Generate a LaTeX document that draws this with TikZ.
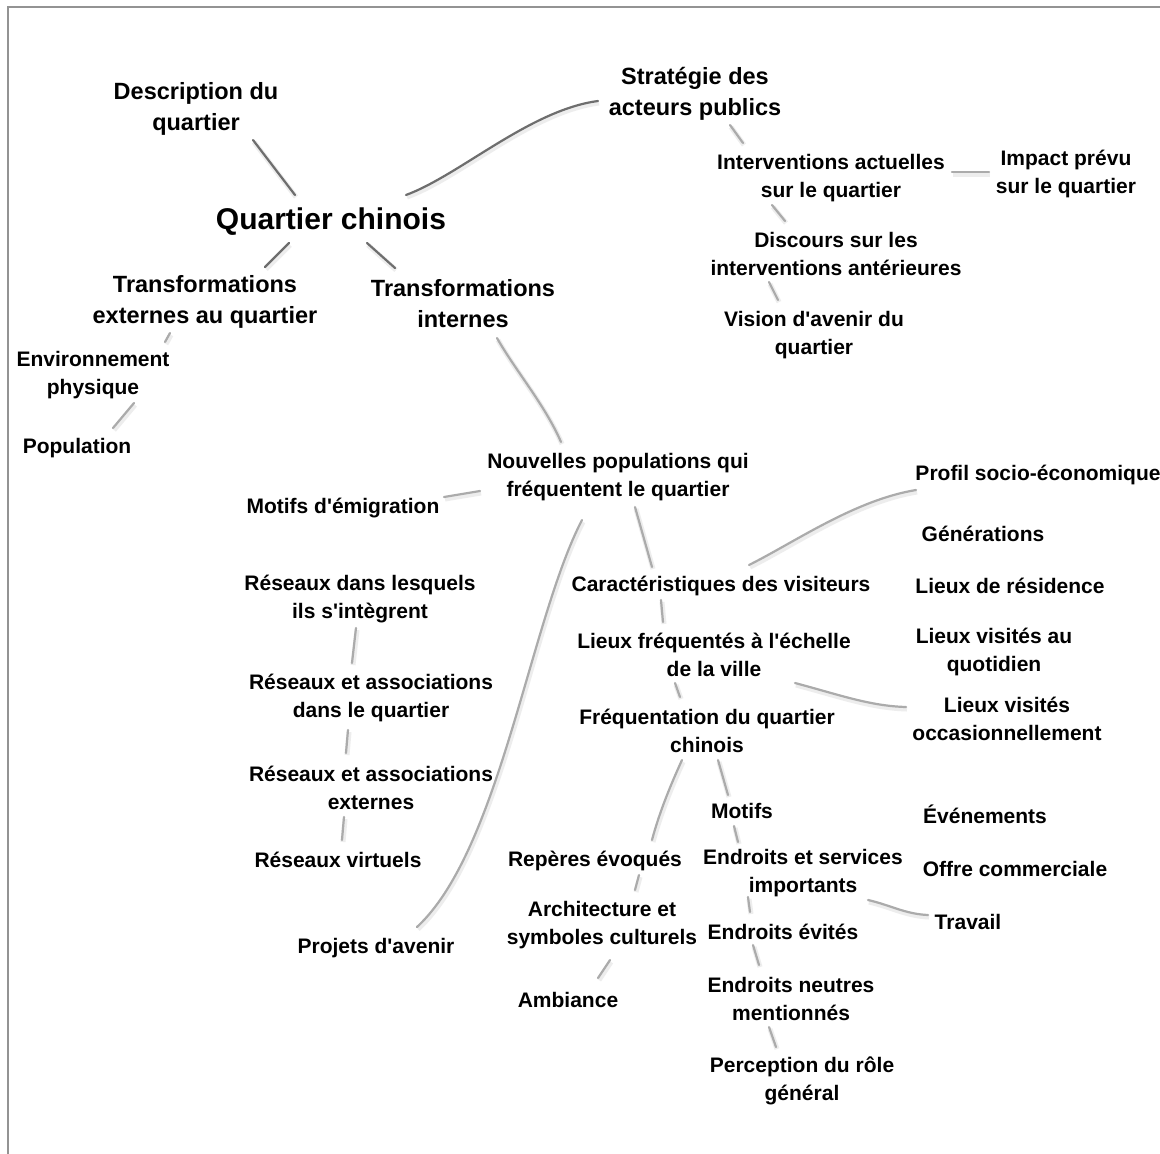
\documentclass[tikz,border=0pt]{standalone}
\usepackage{fontspec}
\newfontfamily\lsans{Liberation Sans}
\usetikzlibrary{calc}
\definecolor{frameg}{HTML}{939393}
\definecolor{linkdark}{HTML}{6E6E6E}
\definecolor{linklight}{HTML}{ABABAB}
\begin{document}
\begin{tikzpicture}[x=1pt,y=-1pt,
  rootn/.style={font=\lsans\bfseries\fontsize{30}{36}\selectfont, inner sep=0pt, align=center, text=black},
  lvone/.style={font=\lsans\bfseries\fontsize{23.5}{31}\selectfont, inner sep=0pt, align=center, text=black},
  leaf/.style={font=\lsans\bfseries\fontsize{21}{27.5}\selectfont, inner sep=0pt, align=center, text=black},
  lkshadow/.style={preaction={draw=black!7, line width=5pt, transform canvas={shift={(1pt,-2pt)}}}},
  lkdark/.style={draw=linkdark, line width=2.2pt, line cap=round, lkshadow},
  lklight/.style={draw=linklight, line width=2.2pt, line cap=round, lkshadow},
  framel/.style={draw=frameg, line width=2pt}]
\useasboundingbox (0,0) rectangle (1160,1154);
\fill[white] (0,0) rectangle (1160,1154);
\draw[framel] (8,1154) -- (8,7) -- (1160,7);

% nodes
\node[rootn] (root) at (331,222) {Quartier chinois};
\node[lvone] (desc) at (196,109) {Description du\\quartier};
\node[lvone] (strat) at (695,94) {Stratégie des\\acteurs publics};
\node[lvone] (texte) at (205,302) {Transformations\\externes au quartier};
\node[lvone] (tint) at (463,304) {Transformations\\internes};
\node[leaf] (envp) at (93,375) {Environnement\\physique};
\node[leaf] (popu) at (77,448) {Population};
\node[leaf] (interv) at (831,178) {Interventions actuelles\\sur le quartier};
\node[leaf] (impact) at (1066,174) {Impact prévu\\sur le quartier};
\node[leaf] (disc) at (836,254) {Discours sur les\\interventions antérieures};
\node[leaf] (vision) at (814,335) {Vision d'avenir du\\quartier};
\node[leaf] (nouv) at (618,477) {Nouvelles populations qui\\fréquentent le quartier};
\node[leaf] (motem) at (343,508) {Motifs d'émigration};
\node[leaf] (profil) at (1038,475) {Profil socio-économique};
\node[leaf] (gener) at (983,534) {Générations};
\node[leaf] (caract) at (721,586) {Caractéristiques des visiteurs};
\node[leaf] (lres) at (1010,586) {Lieux de résidence};
\node[leaf] (lfreq) at (714,655) {Lieux fréquentés à l'échelle\\de la ville};
\node[leaf] (quot) at (994,652) {Lieux visités au\\quotidien};
\node[leaf] (occas) at (1007,719) {Lieux visités\\occasionnellement};
\node[leaf] (freq) at (707,731) {Fréquentation du quartier\\chinois};
\node[leaf] (resint) at (360,599) {Réseaux dans lesquels\\ils s'intègrent};
\node[leaf] (resquart) at (371,698) {Réseaux et associations\\dans le quartier};
\node[leaf] (resext) at (371,788) {Réseaux et associations\\externes};
\node[leaf] (resvirt) at (338,860) {Réseaux virtuels};
\node[leaf] (projets) at (376,948) {Projets d'avenir};
\node[leaf] (motifs) at (742,811) {Motifs};
\node[leaf] (evenem) at (985,814) {Événements};
\node[leaf] (reperes) at (595,861) {Repères évoqués};
\node[leaf] (endserv) at (803,873) {Endroits et services\\importants};
\node[leaf] (offre) at (1015,869) {Offre commerciale};
\node[leaf] (archi) at (602,925) {Architecture et\\symboles culturels};
\node[leaf] (travail) at (968,922) {Travail};
\node[leaf] (evites) at (783,932) {Endroits évités};
\node[leaf] (ambiance) at (568,1000) {Ambiance};
\node[leaf] (neutres) at (791,999) {Endroits neutres\\mentionnés};
\node[leaf] (percep) at (802,1081) {Perception du rôle\\général};

% connectors
\draw[lkdark] ($(root)+(-36,-27)$) -- ($(desc)+(57,31)$);
\draw[lkdark] ($(root)+(75,-27)$) .. controls (460,175) and (530,110) .. ($(strat)+(-97,7)$);
\draw[lkdark] ($(root)+(-42,21)$) -- ($(texte)+(60,-35)$);
\draw[lkdark] ($(root)+(36,21)$) -- ($(tint)+(-68,-36)$);
\draw[lklight] ($(texte)+(-35,31)$) -- ($(envp)+(72,-33)$);
\draw[lklight] ($(envp)+(41,28)$) -- ($(popu)+(36,-20)$);
\draw[lklight] ($(tint)+(34,34)$) .. controls (515,370) and (545,405) .. ($(nouv)+(-57,-35)$);
\draw[lklight] ($(strat)+(35,31)$) -- ($(interv)+(-88,-35)$);
\draw[lklight] ($(interv)+(121,-6)$) -- ($(impact)+(-77,-2)$);
\draw[lklight] ($(interv)+(-59,27)$) -- ($(disc)+(-51,-33)$);
\draw[lklight] ($(disc)+(-67,28)$) -- ($(vision)+(-36,-35)$);
\draw[lklight] ($(nouv)+(-138,14)$) -- ($(motem)+(101,-11)$);
\draw[lklight] ($(nouv)+(-36,43)$) .. controls (530,620) and (500,850) .. ($(projets)+(41,-21)$);
\draw[lklight] ($(nouv)+(17,30)$) -- ($(caract)+(-69,-19)$);
\draw[lklight] ($(caract)+(28,-21)$) .. controls (795,542) and (855,500) .. ($(profil)+(-122,15)$);
\draw[lklight] ($(caract)+(-60,14)$) -- ($(lfreq)+(-51,-33)$);
\draw[lklight] ($(lfreq)+(-39,28)$) -- ($(freq)+(-27,-34)$);
\draw[lklight] ($(lfreq)+(81,28)$) .. controls (840,695) and (870,706) .. ($(occas)+(-101,-12)$);
\draw[lklight] ($(freq)+(11,29)$) -- ($(motifs)+(-14,-16)$);
\draw[lklight] ($(motifs)+(-8,15)$) -- ($(endserv)+(-65,-31)$);
\draw[lklight] ($(freq)+(-25,29)$) .. controls (672,782) and (660,810) .. ($(reperes)+(57,-21)$);
\draw[lklight] ($(reperes)+(44,14)$) -- ($(archi)+(33,-35)$);
\draw[lklight] ($(archi)+(8,35)$) -- ($(ambiance)+(30,-22)$);
\draw[lklight] ($(endserv)+(-55,24)$) -- ($(evites)+(-33,-20)$);
\draw[lklight] ($(endserv)+(65,27)$) .. controls (890,905) and (905,914) .. ($(travail)+(-40,-7)$);
\draw[lklight] ($(evites)+(-30,13)$) -- ($(neutres)+(-32,-34)$);
\draw[lklight] ($(neutres)+(-22,28)$) -- ($(percep)+(-26,-34)$);
\draw[lklight] ($(resint)+(-4,29)$) -- ($(resquart)+(-19,-35)$);
\draw[lklight] ($(resquart)+(-23,32)$) -- ($(resext)+(-25,-35)$);
\draw[lklight] ($(resext)+(-27,29)$) -- ($(resvirt)+(4,-20)$);
\end{tikzpicture}
\end{document}
